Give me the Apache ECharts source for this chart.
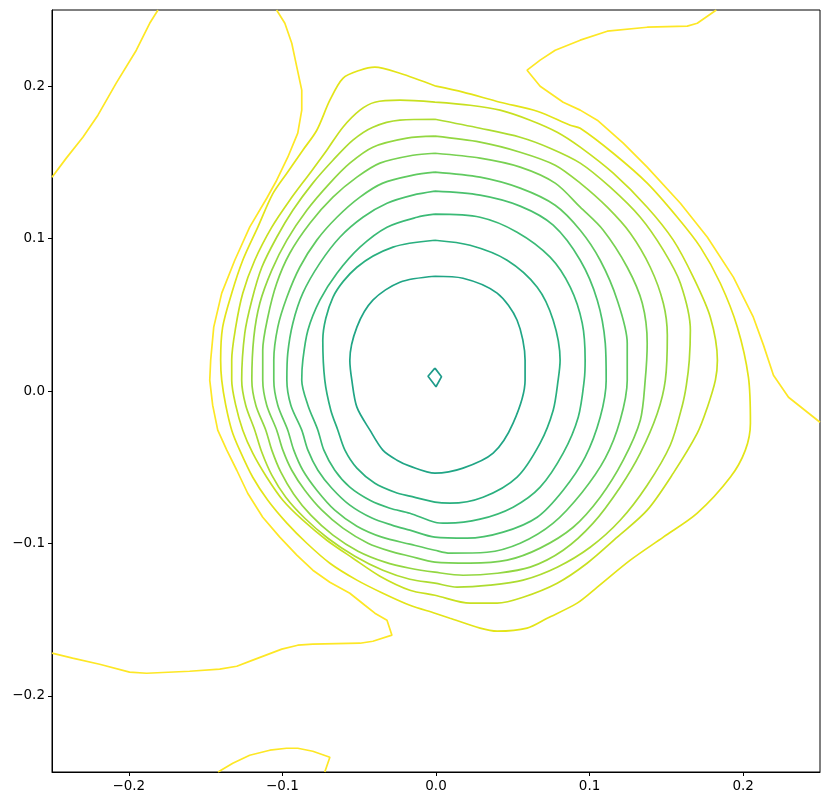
<!DOCTYPE html>
<html>
<head>
<meta charset="utf-8">
<script src="https://cdn.jsdelivr.net/npm/echarts@6/dist/echarts.min.js"></script>
<style>
html, body { margin: 0; padding: 0; background: #fff; }
#main { width: 830px; height: 805px; }
</style>
</head>
<body>
<div id="main"></div>
<script>
// tick labels (same on both axes)
const ticks = [-0.2, -0.1, 0, 0.1, 0.2];

// one colour per contour level, inner -> outer (viridis, upper part)
const levelColors = ['#1e9b8a', '#20a585', '#29af7f', '#3aba76', '#4ac16d', '#60ca60',
  '#78d152', '#93d741', '#addc30', '#c8e020', '#e3e418', '#fde725'];

// closed contours, inner -> outer
const level0 = [[-0.0007, 0.0150], [0.0036, 0.0094], [0.0000, 0.0028], [-0.0052, 0.0097]];

const level1 = [[-0.0007, 0.0753], [0.0176, 0.0740], [0.0398, 0.0642], [0.0528, 0.0464], [0.0580, 0.0202],
  [0.0580, 0.0071], [0.0502, -0.0211], [0.0372, -0.0408], [0.0176, -0.0506], [-0.0007, -0.0539],
  [-0.0170, -0.0493], [-0.0254, -0.0454], [-0.0346, -0.0388], [-0.0430, -0.0257], [-0.0515, -0.0106],
  [-0.0548, 0.0071], [-0.0561, 0.0202], [-0.0515, 0.0419], [-0.0411, 0.0596], [-0.0235, 0.0714]];

const level2 = [[-0.0007, 0.0989], [0.0222, 0.0956], [0.0463, 0.0858], [0.0659, 0.0681], [0.0763, 0.0464],
  [0.0808, 0.0202], [0.0795, 0.0071], [0.0763, -0.0126], [0.0678, -0.0342], [0.0528, -0.0565],
  [0.0306, -0.0697], [0.0091, -0.0736], [-0.0007, -0.0729], [-0.0170, -0.0690], [-0.0267, -0.0664],
  [-0.0398, -0.0605], [-0.0515, -0.0506], [-0.0593, -0.0388], [-0.0639, -0.0257], [-0.0685, -0.0126],
  [-0.0724, 0.0071], [-0.0737, 0.0333], [-0.0671, 0.0615], [-0.0515, 0.0812], [-0.0280, 0.0944]];

const level3 = [[-0.0007, 0.1160], [0.0287, 0.1140], [0.0528, 0.1042], [0.0743, 0.0878], [0.0874, 0.0681],
  [0.0952, 0.0445], [0.0971, 0.0202], [0.0965, 0.0071], [0.0926, -0.0172], [0.0828, -0.0408],
  [0.0678, -0.0631], [0.0502, -0.0762], [0.0287, -0.0841], [0.0072, -0.0867], [-0.0007, -0.0861],
  [-0.0170, -0.0802], [-0.0300, -0.0769], [-0.0430, -0.0717], [-0.0561, -0.0631], [-0.0659, -0.0520],
  [-0.0730, -0.0388], [-0.0769, -0.0257], [-0.0834, -0.0093], [-0.0874, 0.0071], [-0.0867, 0.0202],
  [-0.0834, 0.0399], [-0.0756, 0.0596], [-0.0645, 0.0773], [-0.0495, 0.0944], [-0.0319, 0.1075],
  [-0.0124, 0.1140]];

const level4 = [[-0.0007, 0.1311], [0.0287, 0.1285], [0.0548, 0.1213], [0.0763, 0.1088], [0.0939, 0.0858],
  [0.1050, 0.0596], [0.1102, 0.0314], [0.1108, 0.0071], [0.1069, -0.0172], [0.0971, -0.0434],
  [0.0828, -0.0651], [0.0659, -0.0828], [0.0437, -0.0926], [0.0202, -0.0966], [-0.0007, -0.0959],
  [-0.0170, -0.0913], [-0.0287, -0.0880], [-0.0417, -0.0834], [-0.0561, -0.0749], [-0.0678, -0.0638],
  [-0.0769, -0.0520], [-0.0834, -0.0388], [-0.0874, -0.0257], [-0.0945, -0.0093], [-0.0971, 0.0071],
  [-0.0965, 0.0248], [-0.0932, 0.0445], [-0.0867, 0.0642], [-0.0756, 0.0839], [-0.0626, 0.1009],
  [-0.0476, 0.1140], [-0.0319, 0.1232], [-0.0150, 0.1285]];

const level5 = [[-0.0007, 0.1436], [0.0287, 0.1403], [0.0548, 0.1331], [0.0776, 0.1219], [0.0939, 0.1055],
  [0.1069, 0.0858], [0.1180, 0.0596], [0.1245, 0.0314], [0.1245, 0.0071], [0.1199, -0.0192],
  [0.1102, -0.0441], [0.0952, -0.0664], [0.0763, -0.0867], [0.0548, -0.0999], [0.0332, -0.1058],
  [0.0091, -0.1064], [-0.0007, -0.1045], [-0.0170, -0.1005], [-0.0352, -0.0959], [-0.0515, -0.0887],
  [-0.0659, -0.0782], [-0.0776, -0.0651], [-0.0867, -0.0520], [-0.0926, -0.0388], [-0.0965, -0.0257],
  [-0.1030, -0.0093], [-0.1056, 0.0071], [-0.1056, 0.0202], [-0.1030, 0.0419], [-0.0971, 0.0615],
  [-0.0887, 0.0812], [-0.0776, 0.0990], [-0.0645, 0.1140], [-0.0495, 0.1272], [-0.0346, 0.1364],
  [-0.0150, 0.1416]];

const level6 = [[-0.0007, 0.1560], [0.0287, 0.1528], [0.0548, 0.1469], [0.0776, 0.1364], [0.0939, 0.1206],
  [0.1089, 0.1055], [0.1245, 0.0812], [0.1343, 0.0576], [0.1375, 0.0314], [0.1362, 0.0071],
  [0.1330, -0.0192], [0.1219, -0.0454], [0.1069, -0.0697], [0.0893, -0.0894], [0.0678, -0.1031],
  [0.0463, -0.1110], [0.0222, -0.1130], [-0.0007, -0.1123], [-0.0170, -0.1084], [-0.0300, -0.1051],
  [-0.0443, -0.0999], [-0.0606, -0.0900], [-0.0743, -0.0782], [-0.0854, -0.0651], [-0.0939, -0.0520],
  [-0.0997, -0.0388], [-0.1037, -0.0257], [-0.1102, -0.0093], [-0.1128, 0.0071], [-0.1128, 0.0268],
  [-0.1095, 0.0484], [-0.1037, 0.0707], [-0.0952, 0.0904], [-0.0821, 0.1101], [-0.0671, 0.1272],
  [-0.0515, 0.1403], [-0.0365, 0.1495], [-0.0150, 0.1547]];

const level7 = [[-0.0007, 0.1672], [0.0287, 0.1633], [0.0548, 0.1567], [0.0776, 0.1482], [0.0939, 0.1364],
  [0.1115, 0.1206], [0.1265, 0.1035], [0.1395, 0.0812], [0.1480, 0.0576], [0.1506, 0.0366],
  [0.1493, 0.0071], [0.1441, -0.0146], [0.1330, -0.0408], [0.1199, -0.0631], [0.1023, -0.0867],
  [0.0828, -0.1045], [0.0613, -0.1156], [0.0398, -0.1196], [0.0176, -0.1209], [-0.0007, -0.1189],
  [-0.0170, -0.1163], [-0.0332, -0.1123], [-0.0508, -0.1051], [-0.0671, -0.0946], [-0.0815, -0.0815],
  [-0.0926, -0.0677], [-0.1010, -0.0533], [-0.1069, -0.0388], [-0.1108, -0.0257], [-0.1173, -0.0093],
  [-0.1199, 0.0071], [-0.1186, 0.0353], [-0.1147, 0.0576], [-0.1069, 0.0793], [-0.0971, 0.0990],
  [-0.0841, 0.1186], [-0.0691, 0.1364], [-0.0561, 0.1495], [-0.0411, 0.1600], [-0.0189, 0.1659]];

const level8 = [[-0.0007, 0.1783], [0.0287, 0.1724], [0.0548, 0.1665], [0.0743, 0.1593], [0.0939, 0.1495],
  [0.1134, 0.1337], [0.1330, 0.1140], [0.1480, 0.0924], [0.1591, 0.0707], [0.1656, 0.0399],
  [0.1649, 0.0202], [0.1630, 0.0038], [0.1604, -0.0093], [0.1525, -0.0356], [0.1375, -0.0618],
  [0.1199, -0.0848], [0.1004, -0.1025], [0.0789, -0.1156], [0.0567, -0.1241], [0.0352, -0.1274],
  [0.0137, -0.1287], [-0.0007, -0.1261], [-0.0170, -0.1235], [-0.0346, -0.1176], [-0.0528, -0.1084],
  [-0.0704, -0.0966], [-0.0854, -0.0835], [-0.0978, -0.0697], [-0.1069, -0.0552], [-0.1134, -0.0402],
  [-0.1180, -0.0257], [-0.1239, -0.0093], [-0.1265, 0.0071], [-0.1245, 0.0379], [-0.1199, 0.0596],
  [-0.1134, 0.0812], [-0.1037, 0.1009], [-0.0932, 0.1186], [-0.0802, 0.1364], [-0.0671, 0.1514],
  [-0.0541, 0.1646], [-0.0411, 0.1731], [-0.0235, 0.1777]];

const level9 = [[-0.0007, 0.1895], [0.0222, 0.1875], [0.0417, 0.1843], [0.0613, 0.1777], [0.0789, 0.1698],
  [0.0939, 0.1600], [0.1154, 0.1429], [0.1375, 0.1206], [0.1545, 0.0990], [0.1675, 0.0747],
  [0.1786, 0.0484], [0.1832, 0.0202], [0.1819, 0.0071], [0.1767, -0.0106], [0.1701, -0.0277],
  [0.1545, -0.0539], [0.1375, -0.0782], [0.1180, -0.0959], [0.0984, -0.1130], [0.0789, -0.1261],
  [0.0567, -0.1353], [0.0398, -0.1392], [0.0222, -0.1392], [-0.0007, -0.1340], [-0.0170, -0.1307],
  [-0.0365, -0.1215], [-0.0541, -0.1097], [-0.0711, -0.0979], [-0.0867, -0.0848], [-0.0997, -0.0717],
  [-0.1102, -0.0566], [-0.1193, -0.0408], [-0.1258, -0.0257], [-0.1304, -0.0093], [-0.1330, 0.0071],
  [-0.1330, 0.0202], [-0.1304, 0.0419], [-0.1258, 0.0642], [-0.1180, 0.0858], [-0.1069, 0.1075],
  [-0.0952, 0.1252], [-0.0821, 0.1429], [-0.0711, 0.1580], [-0.0606, 0.1731], [-0.0495, 0.1843],
  [-0.0398, 0.1895], [-0.0235, 0.1908]];

const level10 = [[0.0000, 0.2000], [0.0176, 0.1961], [0.0417, 0.1895], [0.0659, 0.1836], [0.0874, 0.1744],
  [0.0939, 0.1724], [0.1154, 0.1560], [0.1375, 0.1364], [0.1571, 0.1140], [0.1721, 0.0944],
  [0.1851, 0.0707], [0.1962, 0.0419], [0.2034, 0.0091], [0.2047, -0.0211], [0.2014, -0.0388],
  [0.1917, -0.0565], [0.1701, -0.0802], [0.1480, -0.0959], [0.1265, -0.1110], [0.1050, -0.1287],
  [0.0919, -0.1392], [0.0724, -0.1491], [0.0593, -0.1556], [0.0398, -0.1576], [0.0287, -0.1556],
  [0.0091, -0.1491], [-0.0007, -0.1458], [-0.0170, -0.1406], [-0.0346, -0.1327], [-0.0515, -0.1241],
  [-0.0691, -0.1130], [-0.0841, -0.0999], [-0.0971, -0.0867], [-0.1095, -0.0717], [-0.1193, -0.0566],
  [-0.1278, -0.0388], [-0.1330, -0.0257], [-0.1369, -0.0093], [-0.1395, 0.0071], [-0.1402, 0.0202],
  [-0.1389, 0.0419], [-0.1330, 0.0642], [-0.1258, 0.0858], [-0.1160, 0.1075], [-0.1063, 0.1293],
  [-0.0971, 0.1429], [-0.0867, 0.1580], [-0.0776, 0.1711], [-0.0691, 0.1908], [-0.0606, 0.2052],
  [-0.0495, 0.2105], [-0.0398, 0.2125], [-0.0235, 0.2085]];

// outermost level: open pieces that run into the frame
const level11Main = [[-0.1038, 0.2500], [-0.0984, 0.2413], [-0.0939, 0.2282], [-0.0906, 0.2125], [-0.0874, 0.1974],
  [-0.0874, 0.1843], [-0.0900, 0.1692], [-0.0965, 0.1534], [-0.1037, 0.1383], [-0.1102, 0.1265],
  [-0.1213, 0.1075], [-0.1310, 0.0858], [-0.1395, 0.0642], [-0.1447, 0.0419], [-0.1467, 0.0202],
  [-0.1473, 0.0071], [-0.1454, -0.0093], [-0.1421, -0.0257], [-0.1362, -0.0388], [-0.1297, -0.0520],
  [-0.1226, -0.0671], [-0.1128, -0.0828], [-0.1017, -0.0959], [-0.0906, -0.1077], [-0.0802, -0.1176],
  [-0.0691, -0.1255], [-0.0561, -0.1327], [-0.0463, -0.1406], [-0.0398, -0.1458], [-0.0319, -0.1504],
  [-0.0287, -0.1602], [-0.0411, -0.1642], [-0.0495, -0.1655], [-0.0802, -0.1661], [-0.0900, -0.1668],
  [-0.1004, -0.1694], [-0.1193, -0.1766], [-0.1297, -0.1806], [-0.1408, -0.1825], [-0.1604, -0.1839],
  [-0.1884, -0.1852], [-0.1995, -0.1845], [-0.2190, -0.1793], [-0.2366, -0.1753], [-0.2500, -0.1720]];

const level11TopLeft = [[-0.1810, 0.2500], [-0.1864, 0.2413], [-0.1951, 0.2236], [-0.2082, 0.2020],
  [-0.2201, 0.1810], [-0.2299, 0.1665], [-0.2407, 0.1528], [-0.2500, 0.1403]];

const level11Right = [[0.1825, 0.2500], [0.1701, 0.2413], [0.1636, 0.2394], [0.1375, 0.2387], [0.1115, 0.2361],
  [0.0939, 0.2302], [0.0776, 0.2236], [0.0678, 0.2171], [0.0593, 0.2105], [0.0678, 0.2000],
  [0.0828, 0.1895], [0.0939, 0.1843], [0.1050, 0.1777], [0.1219, 0.1626], [0.1375, 0.1469],
  [0.1591, 0.1232], [0.1767, 0.1009], [0.1936, 0.0747], [0.2066, 0.0484], [0.2132, 0.0301],
  [0.2197, 0.0104], [0.2295, -0.0041], [0.2500, -0.0205]];

const level11Bottom = [[-0.1419, -0.2500], [-0.1323, -0.2442], [-0.1213, -0.2390], [-0.1082, -0.2357],
  [-0.0973, -0.2344], [-0.0900, -0.2344], [-0.0802, -0.2364], [-0.0691, -0.2403], [-0.0724, -0.2500]];

const closedLevels = [level0, level1, level2, level3, level4, level5, level6,
  level7, level8, level9, level10];
const openPieces = [level11Main, level11TopLeft, level11Right, level11Bottom];

const fmt = v => (v < 0 ? '\u2212' : '') + Math.abs(v).toFixed(1);

const series = [];
closedLevels.forEach((pts, i) => {
  series.push({
    type: 'line',
    data: pts.concat([pts[0]]),
    symbol: 'none',
    smooth: i === 0 ? false : 0.3,
    lineStyle: { color: levelColors[i], width: 1.7 },
    silent: true
  });
});
openPieces.forEach(pts => {
  series.push({
    type: 'line',
    data: pts,
    symbol: 'none',
    smooth: false,
    lineStyle: { color: levelColors[11], width: 1.7 },
    silent: true
  });
});

const axisCommon = {
  type: 'value',
  min: -0.25,
  max: 0.25,
  splitLine: { show: false },
  axisLine: { show: true, onZero: false, lineStyle: { color: '#000', width: 1 } },
  axisTick: { show: true, customValues: ticks, length: 4, lineStyle: { color: '#000', width: 1 } },
  axisLabel: {
    customValues: ticks,
    formatter: fmt,
    color: '#000',
    fontSize: 13.5,
    fontFamily: 'DejaVu Sans',
    margin: 7
  }
};

var myChart = echarts.init(document.getElementById('main'));
myChart.setOption({
  animation: false,
  backgroundColor: '#fff',
  grid: {
    left: 52,
    right: 10,
    top: 10,
    bottom: 33,
    show: true,
    borderColor: '#000',
    borderWidth: 1,
    backgroundColor: 'transparent'
  },
  xAxis: Object.assign({}, axisCommon),
  yAxis: Object.assign({}, axisCommon),
  series: series
});
</script>
</body>
</html>
